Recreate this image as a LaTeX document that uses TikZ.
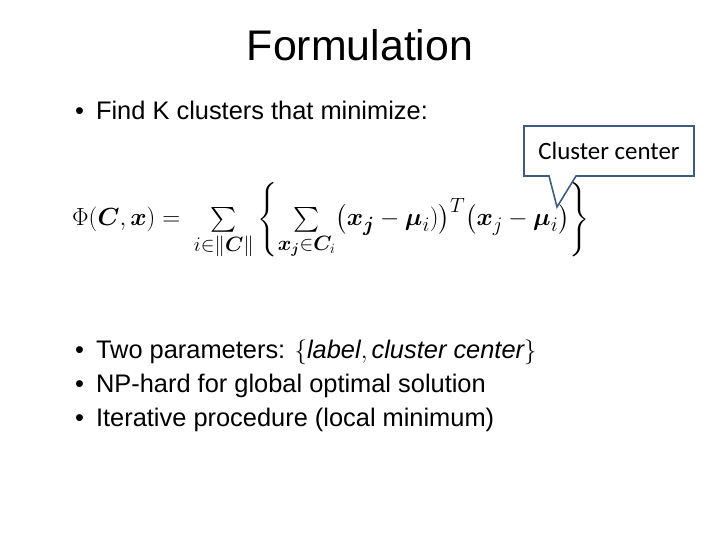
\documentclass[tikz,border=0pt]{standalone}
\usepackage{amsmath,bm}
\usepackage{fontspec}
\setmainfont{Liberation Sans}
\newfontfamily\calloutfont{Carlito}
\definecolor{calloutblue}{HTML}{3E5C7E}
\tikzset{
  bullet/.style={anchor=base west, font=\fontsize{25.5}{30}\selectfont, inner sep=0pt},
  calloutbox/.style={draw=calloutblue, line width=1.6pt, fill=white, line join=miter}
}
\begin{document}
\begin{tikzpicture}[x=1bp, y=-1bp]
  \useasboundingbox (0,0) rectangle (720,540);
  % title
  \node (title) at (360,45) {\fontsize{43}{48}\selectfont Formulation};
  % bullets
  \node (b1) [bullet] at (75,120) {\textbullet\hspace{12bp}Find K clusters that minimize:};
  \node (b2) [bullet] at (75,358) {\textbullet\hspace{12bp}Two parameters: $\{\mathit{label},\mathit{cluster\ center}\}$};
  \node (b3) [bullet] at (75,392) {\textbullet\hspace{12bp}NP-hard for global optimal solution};
  \node (b4) [bullet] at (75,426) {\textbullet\hspace{12bp}Iterative procedure (local minimum)};
  % formula
  \node (phi) [anchor=base west, inner sep=0pt] at (72,226) {\fontsize{27.5}{32}\selectfont
    $\Phi(\bm{C},\bm{x}) = \;\sum\limits_{i\in\|\bm{C}\|}\left\{\sum\limits_{\bm{x_j}\in\bm{C}_i}\bigl(\bm{x_j}-\bm{\mu}_i)\bigr)^{T}\bigl(\bm{x}_j-\bm{\mu}_i\bigr)\right\}$};
  % callout
  \coordinate (tip) at (557,207);
  \draw [calloutbox] (524,126) -- (694,126) -- (694,176) -- (576,176) -- (tip) -- (549,176) -- (524,176) -- cycle;
  \node (callout) at (609,151) {\calloutfont\fontsize{25}{29}\selectfont Cluster center};
\end{tikzpicture}
\end{document}
